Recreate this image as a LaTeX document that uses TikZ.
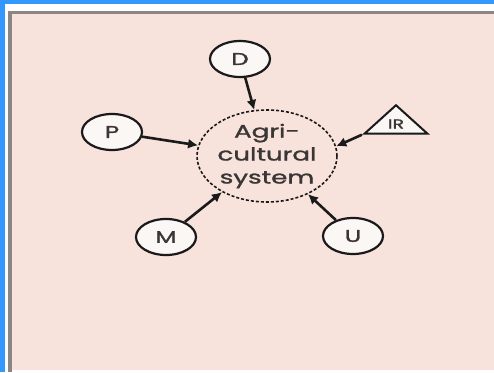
\documentclass[tikz,border=0pt]{standalone}
\usepackage{graphicx}
\usepackage{fontspec}
\setmainfont{Poppins}[FakeBold=1.2]
\usetikzlibrary{arrows.meta,shapes.geometric}

\definecolor{frameblue}{HTML}{3398FC}
\definecolor{paper}{HTML}{F8E2DC}
\definecolor{rimgray}{HTML}{8A8683}
\definecolor{ink}{HTML}{1A1A1A}
\definecolor{txt}{HTML}{3A3636}
\definecolor{bubble}{HTML}{FBF7F5}

% horizontally widened lettering
\newcommand{\widetext}[1]{\scalebox{1.45}[1]{#1}}

\begin{document}
\begin{tikzpicture}[x=1pt,y=-1pt,
  factor/.style={ellipse, draw=ink, line width=2.2pt, fill=bubble,
    minimum width=60pt, minimum height=36pt, inner sep=0pt,
    text=txt, font=\fontsize{17}{17}\selectfont},
  feed/.style={draw=ink, line width=2.6pt, -{Latex[length=10pt,width=10pt]}},
  core/.style={ellipse, draw=ink, dash pattern=on 3pt off 2pt, line width=1.6pt,
    minimum width=140pt, minimum height=92pt, inner sep=0pt,
    text=txt, align=center, font=\fontsize{18}{23}\selectfont},
  source/.style={isosceles triangle, shape border rotate=90,
    isosceles triangle stretches, draw=ink, line width=2pt, fill=bubble,
    minimum width=63pt, minimum height=23pt, inner sep=0pt,
    text=txt, font=\fontsize{13}{13}\selectfont}]

  \useasboundingbox (0,0) rectangle (494,372);

  % window frame and page
  \fill[frameblue] (0,0) rectangle (494,372);
  \fill[white] (5,4) rectangle (494,372);
  \fill[paper] (9,11) rectangle (494,370);
  \fill[rimgray] (8,11) rectangle (12,372);
  \fill[rimgray] (8,11) rectangle (494,13.5);

  % central system
  \node[core] (sys) at (267,156)
    {\widetext{Agri-}\\\widetext{cultural}\\\widetext{system}};

  % outer factors
  \node[factor] (D) at (240,59) {\widetext{D}};
  \node[factor] (P) at (112,132) {\widetext{P}};
  \node[factor] (M) at (166,237) {\widetext{M}};
  \node[factor] (U) at (353,236) {\widetext{U}};
  \node[source] (IR) at (396,124) {\raisebox{-3pt}{\widetext{IR}}};

  % influences on the system
  \draw[feed] (D) -- (sys);
  \draw[feed] (P) -- (sys);
  \draw[feed] (M) -- (sys);
  \draw[feed] (U) -- (sys);
  \draw[feed] (IR.left corner) -- (sys.8);
\end{tikzpicture}
\end{document}
